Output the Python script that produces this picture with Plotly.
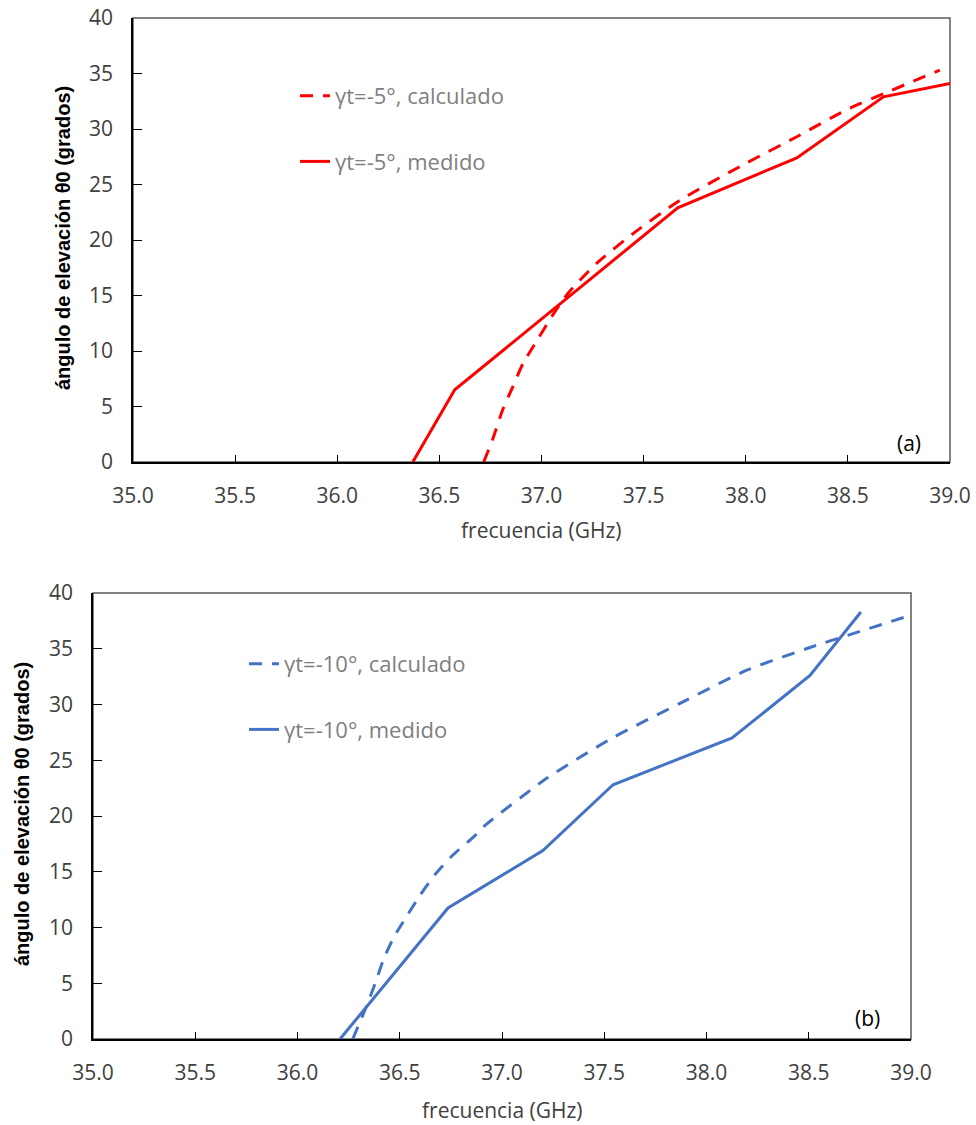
import plotly.graph_objects as go

# ---- data ----
freq_a_calc = [36.717, 36.76, 36.81, 36.86, 36.91, 36.98, 37.05, 37.13, 37.27, 37.45,
               37.68, 38.0, 38.25, 38.49, 38.69, 38.95]
theta_a_calc = [0, 2.0, 4.7, 6.8, 8.9, 11.0, 13.1, 15.2, 17.9, 20.6,
                23.6, 26.9, 29.3, 31.7, 33.3, 35.3]
freq_a_meas = [36.37, 36.575, 37.667, 38.25, 38.674, 39.0]
theta_a_meas = [0, 6.5, 22.9, 27.4, 32.9, 34.1]

freq_b_calc = [36.27, 36.33, 36.38, 36.42, 36.47, 36.53, 36.60, 36.67, 36.76, 36.86,
               36.92, 37.22, 37.54, 37.87, 38.20, 38.52, 38.69, 38.98]
theta_b_calc = [0, 2.6, 5.0, 7.1, 9.1, 10.9, 12.9, 14.7, 16.5, 18.1,
                19.2, 23.4, 27.0, 30.1, 33.1, 35.2, 36.2, 37.9]
freq_b_meas = [36.208, 36.736, 37.20, 37.543, 38.125, 38.506, 38.755]
theta_b_meas = [0, 11.75, 16.9, 22.8, 27.0, 32.6, 38.3]

names_a = ["γt=-5°, calculado", "γt=-5°, medido"]
names_b = ["γt=-10°, calculado", "γt=-10°, medido"]
x_ticks = [35.0, 35.5, 36.0, 36.5, 37.0, 37.5, 38.0, 38.5, 39.0]
y_ticks = [0, 5, 10, 15, 20, 25, 30, 35, 40]
x_title = "frecuencia (GHz)"
y_title = "ángulo de elevación θ0 (grados)"
panel_labels = ["(a)", "(b)"]

RED = "#FF0000"
BLUE = "#4472C4"
W, H = 976, 1125
TXT = "#404040"
FONT = "Open Sans"

fig = go.Figure()
fig.add_trace(go.Scatter(x=freq_a_calc, y=theta_a_calc, mode="lines", name=names_a[0],
                         line=dict(color=RED, width=3, dash="13px,10px", shape="spline", smoothing=0.6),
                         xaxis="x", yaxis="y", legend="legend", legendgroup="a1"))
fig.add_trace(go.Scatter(x=freq_a_meas, y=theta_a_meas, mode="lines", name=names_a[1],
                         line=dict(color=RED, width=3),
                         xaxis="x", yaxis="y", legend="legend", legendgroup="a2"))
fig.add_trace(go.Scatter(x=freq_b_calc, y=theta_b_calc, mode="lines", name=names_b[0],
                         line=dict(color=BLUE, width=3, dash="13px,10px", shape="spline", smoothing=0.6),
                         xaxis="x2", yaxis="y2", legend="legend2", legendgroup="b1"))
fig.add_trace(go.Scatter(x=freq_b_meas, y=theta_b_meas, mode="lines", name=names_b[1],
                         line=dict(color=BLUE, width=3),
                         xaxis="x2", yaxis="y2", legend="legend2", legendgroup="b2"))

def xax(domain, anchor):
    return dict(domain=domain, anchor=anchor, range=[35, 39], tickvals=x_ticks,
                ticktext=[f"{v:.1f}" for v in x_ticks], ticks="inside", ticklen=7,
                tickcolor="#000000", tickwidth=1.3, showline=True, linecolor="#000000",
                linewidth=1.5, showgrid=False, zeroline=False, ticklabelstandoff=14,
                automargin=False,
                tickfont=dict(family=FONT, size=21, color=TXT))

def yax(domain, anchor):
    return dict(domain=domain, anchor=anchor, range=[0, 40], tickvals=y_ticks,
                ticks="inside", ticklen=9, tickcolor="#000000", tickwidth=1.3,
                showline=True, linecolor="#000000", linewidth=1.5, showgrid=False,
                zeroline=False, ticklabelstandoff=14, automargin=False,
                tickfont=dict(family=FONT, size=21, color=TXT))

top_x = [133 / W, 950 / W]
top_y = [1 - 462 / H, 1 - 18 / H]
bot_x = [93 / W, 911 / W]
bot_y = [1 - 1039 / H, 1 - 593 / H]

fig.update_layout(
    template="none",
    width=W, height=H, margin=dict(l=0, r=0, t=0, b=0, autoexpand=False),
    paper_bgcolor="white", plot_bgcolor="white",
    xaxis=xax(top_x, "y"), yaxis=yax(top_y, "x"),
    xaxis2=xax(bot_x, "y2"), yaxis2=yax(bot_y, "x2"),
    legend=dict(x=295 / W, y=1 - 75 / H, xanchor="left", yanchor="top",
                bgcolor="rgba(0,0,0,0)", tracegroupgap=34,
                font=dict(family=FONT, size=22, color="#7F7F7F")),
    legend2=dict(x=244 / W, y=1 - 643 / H, xanchor="left", yanchor="top",
                 bgcolor="rgba(0,0,0,0)", tracegroupgap=34,
                 font=dict(family=FONT, size=22, color="#7F7F7F")),
    showlegend=True,
)

# grey frame (top/right borders)
for xr, yr in (("x domain", "y domain"), ("x2 domain", "y2 domain")):
    fig.add_shape(type="rect", xref=xr, yref=yr, x0=0, y0=0, x1=1, y1=1,
                  line=dict(color="#595959", width=1.5), layer="below")

# axis titles
fig.add_annotation(text=y_title, xref="paper", yref="paper", x=63 / W, y=1 - 238 / H,
                   textangle=-90, showarrow=False, xanchor="center", yanchor="middle",
                   font=dict(family="Liberation Sans", size=20, color="#000000", weight="bold"))
fig.add_annotation(text=y_title, xref="paper", yref="paper", x=22 / W, y=1 - 814 / H,
                   textangle=-90, showarrow=False, xanchor="center", yanchor="middle",
                   font=dict(family="Liberation Sans", size=20, color="#000000", weight="bold"))
fig.add_annotation(text=x_title, xref="x domain", yref="paper", x=0.5, y=1 - 530 / H,
                   showarrow=False, xanchor="center", yanchor="middle",
                   font=dict(family=FONT, size=21, color=TXT))
fig.add_annotation(text=x_title, xref="x2 domain", yref="paper", x=0.5, y=1 - 1110 / H,
                   showarrow=False, xanchor="center", yanchor="middle",
                   font=dict(family=FONT, size=21, color=TXT))
# panel labels
fig.add_annotation(text=panel_labels[0], xref="x domain", yref="y domain", x=0.95, y=0.043,
                   xanchor="center", yanchor="middle",
                   showarrow=False, font=dict(family=FONT, size=21, color="#000000"))
fig.add_annotation(text=panel_labels[1], xref="x2 domain", yref="y2 domain", x=0.947, y=0.047,
                   xanchor="center", yanchor="middle",
                   showarrow=False, font=dict(family=FONT, size=21, color="#000000"))

fig.write_html("out.html", config={"displayModeBar": False},
               post_script="document.body.style.margin='0';document.body.style.overflow='hidden';")
